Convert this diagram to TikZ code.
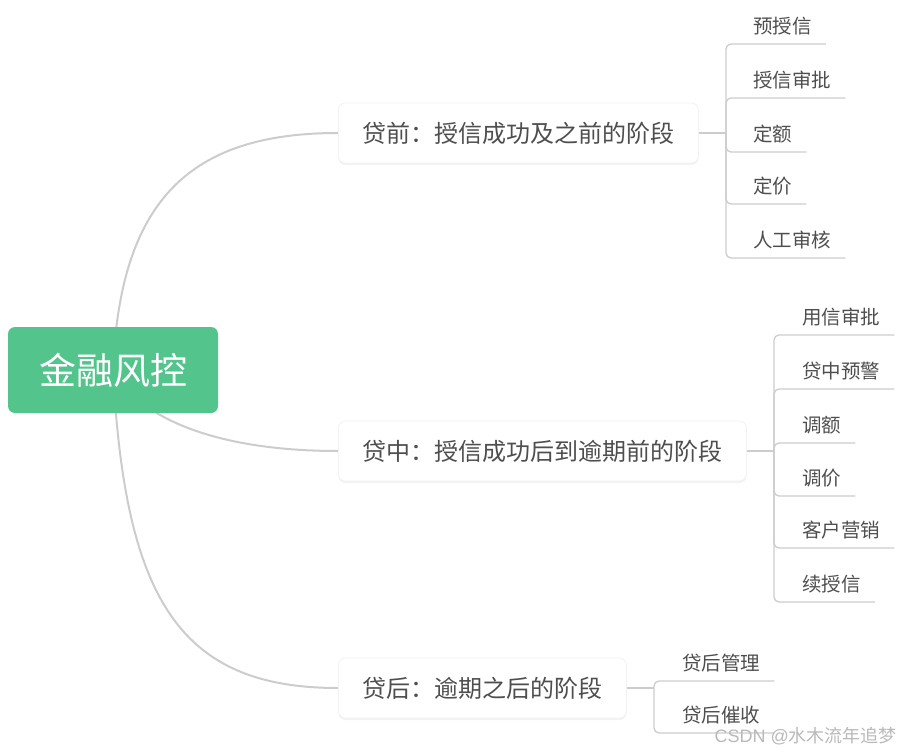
\documentclass[tikz,border=0pt]{standalone}
\usepackage{fontspec}
\setmainfont{Noto Sans CJK SC}
\newfontfamily\latinfont{Liberation Sans}
\usetikzlibrary{positioning,backgrounds,shadows}
\definecolor{RootGreen}{RGB}{82,196,140}
\definecolor{LineGray}{RGB}{204,204,204}
\definecolor{TextGray}{RGB}{78,78,78}

\begin{document}
\begin{tikzpicture}[x=1pt, y=-1pt,
	root/.style={fill=RootGreen, rounded corners=7pt, text=white, inner sep=0pt,
		font=\fontsize{37}{40}\selectfont, minimum width=210pt, minimum height=86pt},
	stage/.style={fill=white, draw=black!5, line width=0.8pt, rounded corners=7pt, text=TextGray,
		inner xsep=24pt, font=\fontsize{24}{28}\selectfont, minimum height=60pt, anchor=west,
		drop shadow={opacity=0.10, shadow xshift=0pt, shadow yshift=-2pt}},
	leaf/.style={anchor=south west, inner sep=0pt, text=TextGray, text depth=10pt,
		font=\fontsize{19.5}{22}\selectfont},
	trunk/.style={LineGray, line width=2pt},
	twig/.style={LineGray, line width=1.3pt, rounded corners=5pt}]
	\useasboundingbox (0,0) rectangle (911,755);

	% 中心
	\node[root] (fk) at (113,370) {金融风控};

	% 三个阶段
	\node[stage] (pre) at (338,133) {贷前：授信成功及之前的阶段};
	\node[stage] (mid) at (338,451) {贷中：授信成功后到逾期前的阶段};
	\node[stage] (post) at (338,688) {贷后：逾期之后的阶段};

	\begin{scope}[on background layer]
		\draw[trunk] (fk.center) .. controls (120,200) and (190,133) .. (pre.west);
		\draw[trunk] (fk.center) .. controls (140,420) and (220,451) .. (mid.west);
		\draw[trunk] (fk.center) .. controls (125,600) and (180,688) .. (post.west);
	\end{scope}

	% 贷前
	\coordinate (jpre) at (726,133);
	\draw[twig] (pre.east) -- (jpre);
	\foreach \y/\t [count=\i] in {44/预授信, 98/授信审批, 152/定额, 204/定价, 258/人工审核} {
		\node[leaf] (pre\i) at (753,\y) {\t};
		\draw[twig] (jpre) |- ([xshift=14pt]pre\i.south east);
	}

	% 贷中
	\coordinate (jmid) at (774,451);
	\draw[twig] (mid.east) -- (jmid);
	\foreach \y/\t [count=\i] in {335/用信审批, 389/贷中预警, 443/调额, 496/调价, 548/客户营销, 602/续授信} {
		\node[leaf] (mid\i) at (802,\y) {\t};
		\draw[twig] (jmid) |- ([xshift=14pt]mid\i.south east);
	}

	% 贷后
	\coordinate (jpost) at (654,688);
	\draw[twig] (post.east) -- (jpost);
	\foreach \y/\t [count=\i] in {681/贷后管理, 733/贷后催收} {
		\node[leaf] (post\i) at (682,\y) {\t};
		\draw[twig] (jpost) |- ([xshift=14pt]post\i.south east);
	}

	% 水印
	\node[text=gray!55, font=\fontsize{18}{20}\selectfont, anchor=east, inner sep=0pt] (wm) at (897,736)
		{{\latinfont CSDN @}水木流年追梦};
\end{tikzpicture}
\end{document}
